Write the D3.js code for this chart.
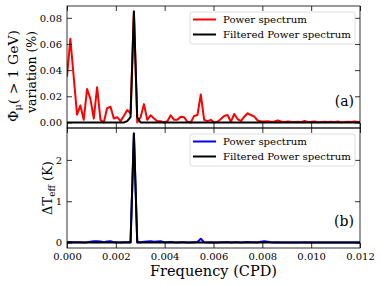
<!DOCTYPE html>
<html>
<head>
<meta charset="utf-8">
<script src="https://cdn.jsdelivr.net/npm/d3@7"></script>
<style>
  body { margin: 0; background: #fff; }
  svg { display: block; }
  text { font-family: 'DejaVu Serif', serif; fill: #000; }
</style>
</head>
<body>
<svg width="381" height="286"></svg>
<script>
// frequency grid spacing (CPD), 1 / 7300 days
var freqStep = 1 / 7300;

// panel (a): muon flux variation power spectrum (%)
var powerA = [0.035, 0.064, 0.035, 0.006, 0.013, 0.002, 0.0255, 0.018, 0.003, 0.027,
    0.002, 0.0, 0.011, 0.012, 0.003, 0.004, 0.001, 0.005, 0.0095, 0.007,
    0.0848, 0.0, 0.004, 0.014, 0.002, 0.0055, 0.003, 0.001, 0.001, 0.0,
    0.001, 0.0055, 0.002, 0.002, 0.0044, 0.004, 0.0005, 0.0, 0.005, 0.0057,
    0.0214, 0.002, 0.001, 0.002, 0.0, 0.0005, 0.0026, 0.005, 0.0057, 0.0005,
    0.0065, 0.0026, 0.001, 0.0044, 0.007, 0.0057, 0.0044, 0.0015, 0.0007, 0.0007,
    0.001, 0.0005, 0.0007, 0.0015, 0.0007, 0.0003, 0.0008, 0.0005, 0.0003, 0.0006,
    0.0002, 0.0012, 0.0003, 0.0005, 0.0008, 0.0002, 0.0004, 0.0005, 0.0003, 0.0006,
    0.0004, 0.0007, 0.0002, 0.0003, 0.0006, 0.0003, 0.0007, 0.0004, 0.0002];
var filteredA = [0, 0, 0, 0, 0, 0, 0, 0, 0, 0,
    0, 0, 0, 0, 0, 0, 0, 0, 0.001, 0.004,
    0.0848, 0.004, 0, 0, 0, 0, 0, 0, 0, 0,
    0, 0, 0, 0, 0, 0, 0, 0, 0, 0,
    0, 0, 0, 0, 0, 0, 0, 0, 0, 0,
    0, 0, 0, 0, 0, 0, 0, 0, 0, 0,
    0, 0, 0, 0, 0, 0, 0, 0, 0, 0,
    0, 0, 0, 0, 0, 0, 0, 0, 0, 0,
    0, 0, 0, 0, 0, 0, 0, 0, 0];

// panel (b): effective temperature power spectrum (K)
var powerB = [0.01, 0.015, 0.01, 0.005, 0.008, 0.003, 0.01, 0.02, 0.03, 0.03,
    0.028, 0.01, 0.025, 0.03, 0.01, 0.005, 0.002, 0.005, 0.008, 0.01,
    2.64, 0.01, 0.005, 0.02, 0.025, 0.03, 0.02, 0.025, 0.03, 0.01,
    0.005, 0.015, 0.005, 0.004, 0.01, 0.008, 0.003, 0.002, 0.01, 0.015,
    0.09, 0.01, 0.004, 0.005, 0.002, 0.003, 0.008, 0.01, 0.012, 0.004,
    0.01, 0.006, 0.003, 0.008, 0.012, 0.01, 0.008, 0.004, 0.02, 0.03,
    0.02, 0.005, 0.003, 0.006, 0.003, 0.002, 0.004, 0.003, 0.002, 0.003,
    0.001, 0.005, 0.002, 0.003, 0.004, 0.001, 0.002, 0.003, 0.002, 0.003,
    0.002, 0.004, 0.001, 0.002, 0.003, 0.002, 0.003, 0.002, 0.001];
var filteredB = [0, 0, 0, 0, 0, 0, 0, 0, 0, 0,
    0, 0, 0, 0, 0, 0, 0, 0, 0, 0,
    2.64, 0, 0, 0, 0, 0, 0, 0, 0, 0,
    0, 0, 0, 0, 0, 0, 0, 0, 0, 0,
    0, 0, 0, 0, 0, 0, 0, 0, 0, 0,
    0, 0, 0, 0, 0, 0, 0, 0, 0, 0,
    0, 0, 0, 0, 0, 0, 0, 0, 0, 0,
    0, 0, 0, 0, 0, 0, 0, 0, 0, 0,
    0, 0, 0, 0, 0, 0, 0, 0, 0];

var xTicks = [0, 0.002, 0.004, 0.006, 0.008, 0.010, 0.012];
var yTicksA = [0, 0.02, 0.04, 0.06, 0.08];
var yTicksB = [0, 1, 2];
var legendLabels = ['Power spectrum', 'Filtered Power spectrum'];

d3.select(window).on('load', init);

function init() {

    var svg = d3.select('svg');
    var left = 67, right = 360;
    var tickLen = 5;

    var x = d3.scaleLinear()
        .domain([0, 0.012])
        .range([left, right]);

    var panels = [
        {top: 6, bottom: 128, domain: [-0.00424, 0.08904], ticks: yTicksA, fmt: d3.format('.2f'),
            power: powerA, filtered: filteredA, color: '#ff0000', tag: '(a)', showX: false},
        {top: 128, bottom: 248, domain: [-0.132, 2.772], ticks: yTicksB, fmt: d3.format('d'),
            power: powerB, filtered: filteredB, color: '#0000ff', tag: '(b)', showX: true}
    ];

    panels.forEach(function (p, k) {
        var y = d3.scaleLinear()
            .domain(p.domain)
            .range([p.bottom, p.top]);

        var g = svg.append('g');

        svg.append('clipPath')
            .attr('id', 'clip' + k)
            .append('rect')
            .attr('x', left)
            .attr('y', p.top)
            .attr('width', right - left)
            .attr('height', p.bottom - p.top);

        var line = d3.line()
            .x(function (d, i) { return x(i * freqStep); })
            .y(function (d) { return y(d); });

        g.append('path')
            .datum(p.power)
            .attr('clip-path', 'url(#clip' + k + ')')
            .attr('d', line)
            .attr('fill', 'none')
            .attr('stroke', p.color)
            .attr('stroke-width', 2)
            .attr('stroke-linejoin', 'round');

        g.append('path')
            .datum(p.filtered)
            .attr('clip-path', 'url(#clip' + k + ')')
            .attr('d', line)
            .attr('fill', 'none')
            .attr('stroke', '#000')
            .attr('stroke-width', 2)
            .attr('stroke-linejoin', 'round');

        // axes, ticks pointing inward on all four sides
        var axes = [
            {ax: d3.axisLeft(y).tickValues(p.ticks).tickFormat(p.fmt), tr: 'translate(' + left + ',0)'},
            {ax: d3.axisRight(y).tickValues(p.ticks).tickFormat(''), tr: 'translate(' + right + ',0)'},
            {ax: d3.axisTop(x).tickValues(xTicks).tickFormat(''), tr: 'translate(0,' + p.top + ')'},
            {ax: d3.axisBottom(x).tickValues(xTicks)
                .tickFormat(p.showX ? d3.format('.3f') : ''), tr: 'translate(0,' + p.bottom + ')'}
        ];
        axes.forEach(function (a) {
            var ag = g.append('g')
                .attr('transform', a.tr)
                .call(a.ax.tickSizeInner(-tickLen).tickSizeOuter(0).tickPadding(5));
            ag.select('.domain').remove();
            ag.selectAll('line').attr('stroke', '#000').attr('stroke-width', 0.8);
            ag.selectAll('text')
                .style('font-family', 'DejaVu Serif')
                .style('font-size', '10px');
        });

        g.append('rect')
            .attr('x', left)
            .attr('y', p.top)
            .attr('width', right - left)
            .attr('height', p.bottom - p.top)
            .attr('fill', 'none')
            .attr('stroke', '#000')
            .attr('stroke-width', 0.8);

        // legend
        var lg = g.append('g')
            .attr('transform', 'translate(190,' + (p.top + 6) + ')');
        lg.append('rect')
            .attr('width', 165)
            .attr('height', 32)
            .attr('rx', 2.5)
            .attr('fill', '#fff')
            .attr('fill-opacity', 0.8)
            .attr('stroke', '#d6d6d6')
            .attr('stroke-width', 0.8);
        legendLabels.forEach(function (lab, i) {
            var ly = 7.5 + i * 15;
            lg.append('line')
                .attr('x1', 3).attr('x2', 26)
                .attr('y1', ly).attr('y2', ly)
                .attr('stroke', i === 0 ? p.color : '#000')
                .attr('stroke-width', 2);
            lg.append('text')
                .attr('x', 33)
                .attr('y', ly + 3.5)
                .attr('textLength', i === 0 ? 84 : 128)
                .attr('lengthAdjust', 'spacingAndGlyphs')
                .style('font-size', '10px')
                .text(lab);
        });

        g.append('text')
            .attr('x', 354)
            .attr('y', p.bottom - 22)
            .attr('text-anchor', 'end')
            .style('font-size', '14px')
            .text(p.tag);
    });

    // y labels
    var la = svg.append('text')
        .attr('transform', 'translate(13.5,76) rotate(-90)')
        .attr('text-anchor', 'middle')
        .attr('dy', '0.35em')
        .attr('textLength', 92)
        .attr('lengthAdjust', 'spacingAndGlyphs')
        .style('font-size', '13px');
    la.append('tspan').text('\u03A6');
    la.append('tspan').attr('dy', 3).style('font-size', '9px').text('\u03BC');
    la.append('tspan').attr('dy', -3).text('( > 1 GeV)');

    svg.append('text')
        .attr('transform', 'translate(31,72) rotate(-90)')
        .attr('text-anchor', 'middle')
        .attr('dy', '0.35em')
        .attr('textLength', 82)
        .attr('lengthAdjust', 'spacingAndGlyphs')
        .style('font-size', '13px')
        .text('variation (%)');

    var lb = svg.append('text')
        .attr('transform', 'translate(47,188) rotate(-90)')
        .attr('text-anchor', 'middle')
        .attr('dy', '0.35em')
        .style('font-size', '13px');
    lb.append('tspan').text('\u0394T');
    lb.append('tspan').attr('dy', 3).style('font-size', '9px').text('eff');
    lb.append('tspan').attr('dy', -3).text(' (K)');

    svg.append('text')
        .attr('x', (left + right) / 2)
        .attr('y', 276)
        .attr('text-anchor', 'middle')
        .attr('textLength', 127)
        .attr('lengthAdjust', 'spacingAndGlyphs')
        .style('font-size', '14px')
        .text('Frequency (CPD)');
}
</script>
</body>
</html>
